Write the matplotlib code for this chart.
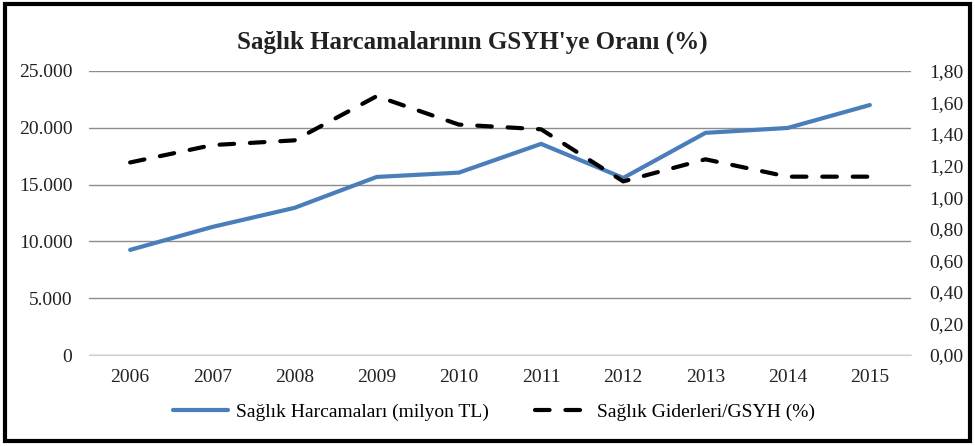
import matplotlib.pyplot as plt
from matplotlib.patches import Rectangle
from matplotlib.ticker import FuncFormatter

plt.rcParams['font.family'] = ['Liberation Serif', 'DejaVu Serif']

years = ['2006', '2007', '2008', '2009', '2010', '2011', '2012', '2013', '2014', '2015']
harcama = [9250, 11270, 12950, 15670, 16050, 18580, 15580, 19550, 19980, 22000]
oran = [1.22, 1.33, 1.36, 1.64, 1.46, 1.43, 1.10, 1.24, 1.13, 1.13]

fig = plt.figure(figsize=(9.75, 4.46), dpi=100)
ax = fig.add_axes([0.0913, 0.204, 0.843, 0.637])
ax2 = ax.twinx()

x = range(len(years))
l1, = ax.plot(x, harcama, color='#4a7ebb', lw=3, solid_capstyle='round',
              label='Sağlık Harcamaları (milyon TL)', zorder=3)
l2, = ax2.plot(x, oran, color='black', lw=3, dashes=(3.5, 3.8), dash_capstyle='round',
               label='Sağlık Giderleri/GSYH (%)')

ax.set_xlim(-0.5, len(years) - 0.5)
ax.set_ylim(0, 25000)
ax.set_yticks(range(0, 25001, 5000))
ax.yaxis.set_major_formatter(FuncFormatter(lambda v, p: f'{int(v):,}'.replace(',', '.')))
ax2.set_ylim(0, 1.8)
ax2.set_yticks([i * 0.2 for i in range(10)])
ax2.yaxis.set_major_formatter(FuncFormatter(lambda v, p: f'{v:.2f}'.replace('.', ',')))

ax.set_xticks(list(x))
ax.set_xticklabels(years)
ax.grid(axis='y', color='#8c8c8c', lw=1)
ax.set_axisbelow(True)
for a in (ax, ax2):
    for s in a.spines.values():
        s.set_visible(False)
    a.tick_params(length=0, labelsize=14, colors='#222222')
ax.spines['bottom'].set_visible(True)
ax.spines['bottom'].set_color('#d0d0d0')
ax.tick_params(axis='x', pad=10)
ax.tick_params(axis='y', pad=12)
ax2.tick_params(axis='y', pad=13)

fig.text(0.484, 0.905, "Sağlık Harcamalarının GSYH'ye Oranı (%)", ha='center', va='center',
         fontsize=18, fontweight='bold', color='#222222')

fig.legend(handles=[l1, l2], loc='center', bbox_to_anchor=(0.507, 0.076), ncol=2,
           frameon=False, fontsize=14, handlelength=2.8, columnspacing=2.4,
           handletextpad=0.4)

fig.patches.append(Rectangle((0.005, 0.012), 0.99, 0.98, transform=fig.transFigure,
                             fill=False, edgecolor='black', lw=3))

fig.savefig('out.png', dpi=100)
